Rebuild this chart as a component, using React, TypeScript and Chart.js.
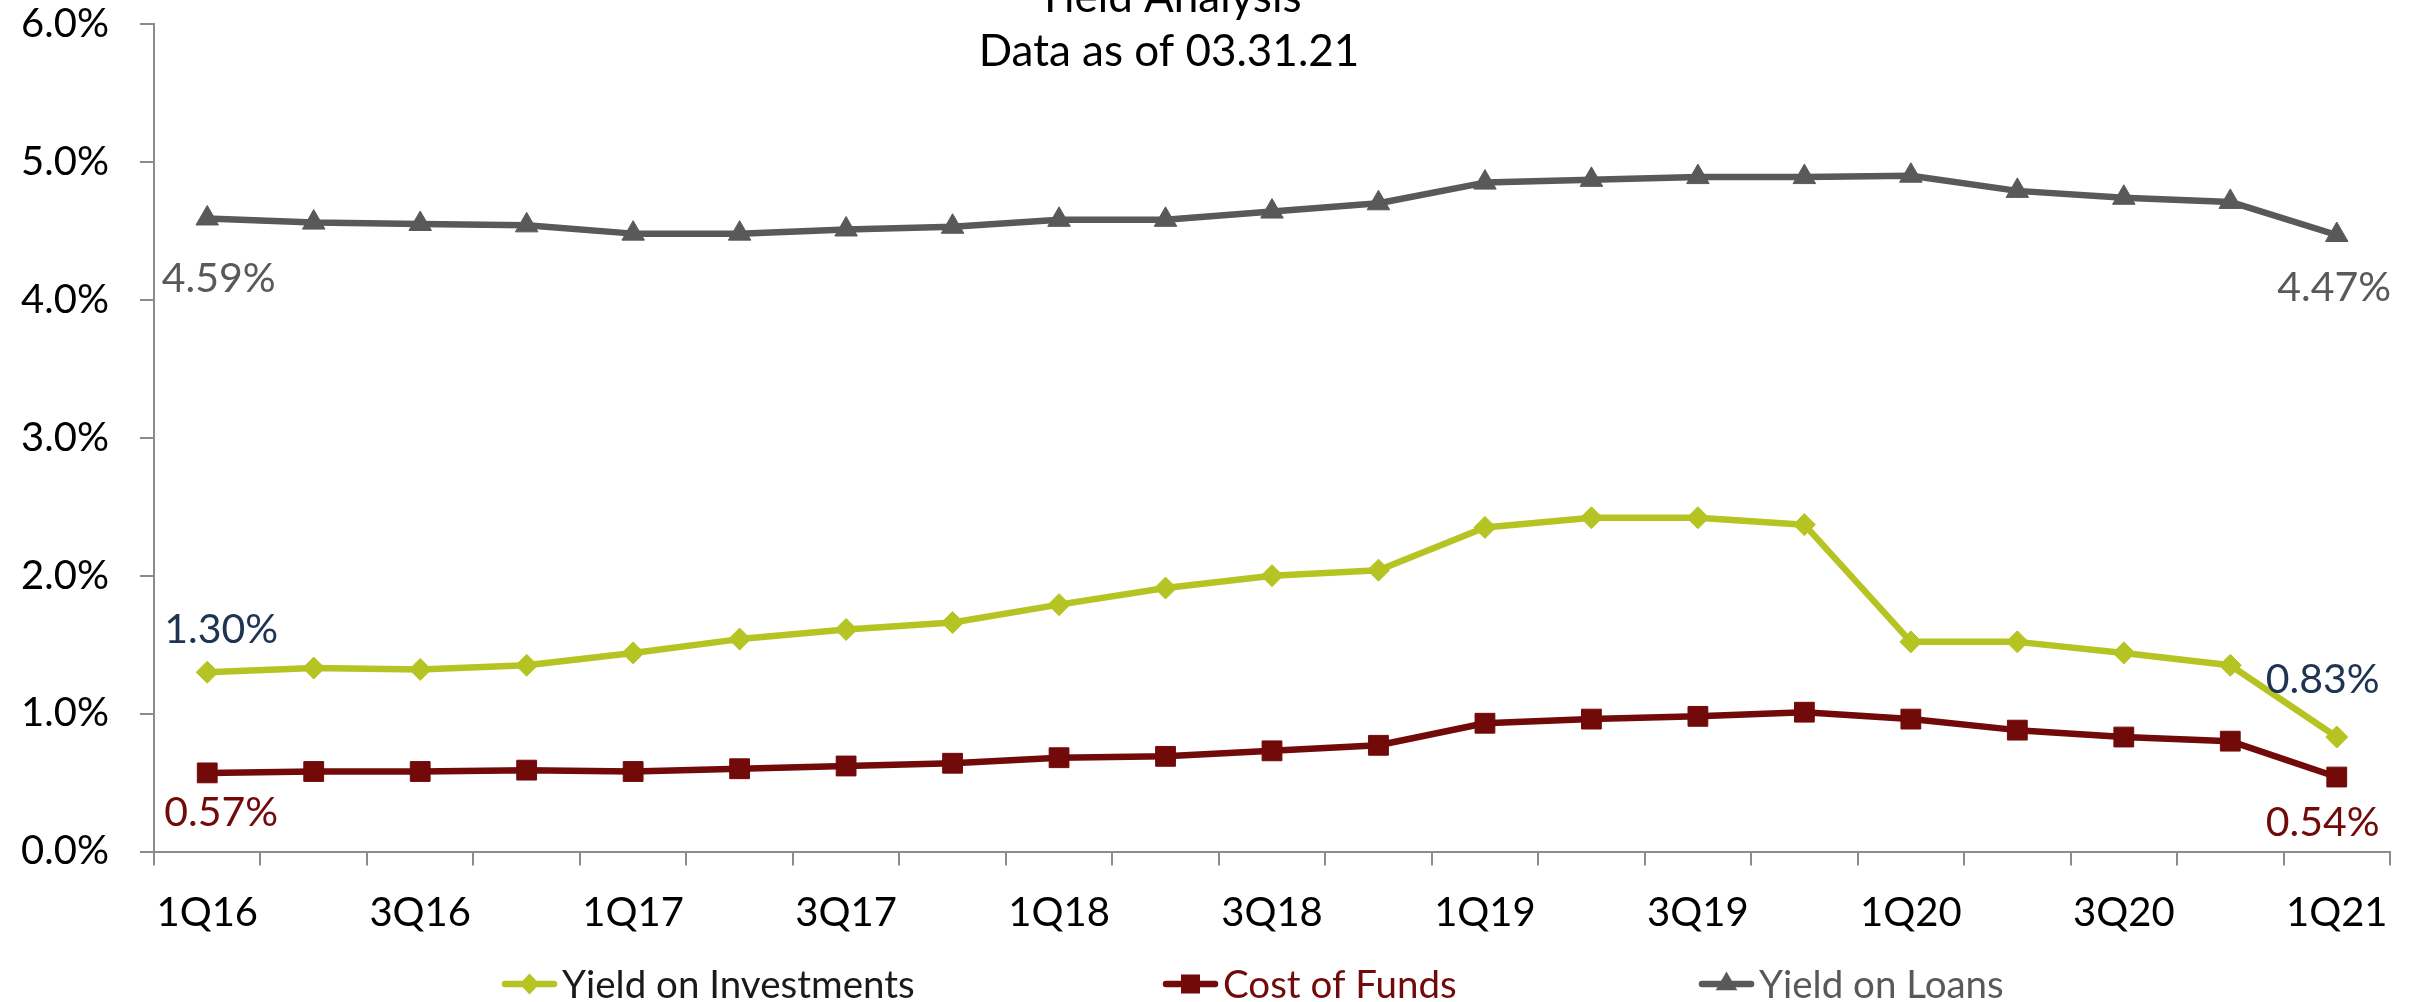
import React, { useEffect, useRef } from 'react';
import { Chart, registerables } from 'chart.js';

Chart.register(...registerables);

// ---------- data ----------
const quarters = ['1Q16', '2Q16', '3Q16', '4Q16', '1Q17', '2Q17', '3Q17', '4Q17', '1Q18', '2Q18', '3Q18', '4Q18', '1Q19', '2Q19', '3Q19', '4Q19', '1Q20', '2Q20', '3Q20', '4Q20', '1Q21'];
const yieldOnInvestments = [1.30, 1.33, 1.32, 1.35, 1.44, 1.54, 1.61, 1.66, 1.79, 1.91, 2.00, 2.04, 2.35, 2.42, 2.42, 2.37, 1.52, 1.52, 1.44, 1.35, 0.83];
const costOfFunds = [0.57, 0.58, 0.58, 0.59, 0.58, 0.60, 0.62, 0.64, 0.68, 0.69, 0.73, 0.77, 0.93, 0.96, 0.98, 1.01, 0.96, 0.88, 0.83, 0.80, 0.54];
const yieldOnLoans = [4.59, 4.56, 4.55, 4.54, 4.48, 4.48, 4.51, 4.53, 4.58, 4.58, 4.64, 4.70, 4.85, 4.87, 4.89, 4.89, 4.90, 4.79, 4.74, 4.71, 4.47];
const yTicks = [0, 1, 2, 3, 4, 5, 6];
const titleLines = ['Yield Analysis', 'Data as of 03.31.21'];
const seriesNames = ['Yield on Investments', 'Cost of Funds', 'Yield on Loans'];

// ---------- styles ----------
const FONT = 'Lato, "Open Sans", sans-serif';
const CAP = 0.7165;
const C_INV = '#B5C422';
const C_COF = '#720A0A';
const C_LOAN = '#595959';
const C_AXIS = '#8C8C8C';
const legendTextColors = ['#1A1A1A', C_COF, C_LOAN];
const legendStarts = [502, 1163, 1699];
const pointStyles = ['diamond', 'square', 'triangle'];

// data-label placement (offsets relative to the point, cap-centre)
const labelPlacement = [
  { ds: 2, i: 0, dx: 11.5, dy: 59, color: C_LOAN },
  { ds: 2, i: 20, dx: -2.5, dy: 51.5, color: C_LOAN },
  { ds: 0, i: 0, dx: 14, dy: -44, color: '#1F3352' },
  { ds: 0, i: 20, dx: -14, dy: -59, color: '#1F3352' },
  { ds: 1, i: 0, dx: 14, dy: 38, color: C_COF },
  { ds: 1, i: 20, dx: -14, dy: 44, color: C_COF },
];

function drawMarker(ctx: CanvasRenderingContext2D, kind: string, x: number, y: number, color: string) {
  ctx.save();
  ctx.fillStyle = color;
  ctx.beginPath();
  if (kind === 'diamond') {
    ctx.moveTo(x - 10, y);
    ctx.lineTo(x, y - 10.5);
    ctx.lineTo(x + 10, y);
    ctx.lineTo(x, y + 10.5);
  } else if (kind === 'square') {
    ctx.rect(x - 9.5, y - 9.5, 19, 19);
  } else {
    const r = 12.5;
    ctx.moveTo(x, y - r);
    ctx.lineTo(x + r * Math.sin((2 * Math.PI) / 3), y + r * 0.5);
    ctx.lineTo(x - r * Math.sin((2 * Math.PI) / 3), y + r * 0.5);
  }
  ctx.closePath();
  ctx.fill();
  ctx.restore();
}

const overlayPlugin = {
  id: 'overlay',
  afterDraw(chart: any) {
    const ctx: CanvasRenderingContext2D = chart.ctx;
    ctx.save();
    // title
    ctx.font = `400 44px ${FONT}`;
    ctx.fillStyle = '#000';
    ctx.textAlign = 'center';
    ctx.textBaseline = 'alphabetic';
    ctx.fillText(titleLines[0], 1169, 12);
    ctx.fillText(titleLines[1], 1169, 66);

    // data labels
    const lsize = 41;
    ctx.font = `400 ${lsize}px ${FONT}`;
    labelPlacement.forEach((lp) => {
      const meta = chart.getDatasetMeta(lp.ds);
      const pt = meta.data[lp.i];
      const v = chart.data.datasets[lp.ds].data[lp.i] as number;
      ctx.fillStyle = lp.color;
      ctx.fillText(v.toFixed(2) + '%', pt.x + lp.dx, pt.y + lp.dy + (CAP * lsize) / 2);
    });

    // legend
    const fsize = 38.5;
    ctx.font = `400 ${fsize}px ${FONT}`;
    const lineW = 55;
    const textGap = 5;
    const y = 984;
    chart.data.datasets.forEach((d: any, i: number) => {
      const x = legendStarts[i];
      ctx.strokeStyle = d.borderColor;
      ctx.lineWidth = 6.5;
      ctx.lineCap = 'round';
      ctx.beginPath();
      ctx.moveTo(x + 3, y);
      ctx.lineTo(x + lineW - 3, y);
      ctx.stroke();
      drawMarker(ctx, pointStyles[i], x + lineW / 2, y, d.borderColor);
      ctx.fillStyle = legendTextColors[i];
      ctx.textAlign = 'left';
      ctx.fillText(d.label, x + lineW + textGap, y + (CAP * fsize) / 2);
    });
    ctx.restore();
  },
};

export default function App() {
  const ref = useRef<HTMLCanvasElement>(null);

  useEffect(() => {
    const canvas = ref.current;
    if (!canvas) return;
    const chart = new Chart(canvas, {
      type: 'line',
      data: {
        labels: quarters,
        datasets: [
          {
            label: seriesNames[0],
            data: yieldOnInvestments,
            borderColor: C_INV,
            backgroundColor: C_INV,
            borderWidth: 6.5,
            pointStyle: 'rectRot',
            pointRadius: 11,
            pointHoverRadius: 11,
            pointBackgroundColor: C_INV,
            pointBorderColor: C_INV,
            pointBorderWidth: 1,
            borderJoinStyle: 'round',
            tension: 0,
          },
          {
            label: seriesNames[1],
            data: costOfFunds,
            borderColor: C_COF,
            backgroundColor: C_COF,
            borderWidth: 6.5,
            pointStyle: 'rect',
            pointRadius: 14,
            pointHoverRadius: 14,
            pointBackgroundColor: C_COF,
            pointBorderColor: C_COF,
            pointBorderWidth: 1,
            borderJoinStyle: 'round',
            tension: 0,
          },
          {
            label: seriesNames[2],
            data: yieldOnLoans,
            borderColor: C_LOAN,
            backgroundColor: C_LOAN,
            borderWidth: 6.5,
            pointStyle: 'triangle',
            pointRadius: 13,
            pointHoverRadius: 13,
            pointBackgroundColor: C_LOAN,
            pointBorderColor: C_LOAN,
            pointBorderWidth: 1,
            borderJoinStyle: 'round',
            tension: 0,
          },
        ],
      },
      options: {
        animation: false,
        responsive: true,
        maintainAspectRatio: false,
        layout: { padding: { top: 24, right: 22, bottom: 0, left: 0 } },
        plugins: {
          legend: { display: false },
          title: { display: false },
          tooltip: { enabled: false },
        },
        scales: {
          x: {
            type: 'category',
            offset: true,
            afterFit: (s: any) => {
              s.height = 150.5;
              s.paddingLeft = 0;
              s.paddingRight = 0;
            },
            grid: {
              display: true,
              drawOnChartArea: false,
              drawTicks: true,
              tickLength: 14,
              offset: true,
              color: C_AXIS,
              lineWidth: 2,
            },
            border: { display: true, color: C_AXIS, width: 2 },
            ticks: {
              autoSkip: false,
              maxRotation: 0,
              minRotation: 0,
              padding: 24,
              color: '#000',
              font: { family: FONT, size: 40, weight: '400' },
              callback: (_v: any, idx: number) => (idx % 2 === 0 ? quarters[idx] : ''),
            },
          },
          y: {
            min: 0,
            max: 6,
            afterFit: (s: any) => {
              s.width = 154;
              s.paddingTop = 0;
              s.paddingBottom = 0;
            },
            afterBuildTicks: (s: any) => {
              s.ticks = yTicks.map((v) => ({ value: v }));
            },
            grid: {
              display: true,
              drawOnChartArea: false,
              drawTicks: true,
              tickLength: 14,
              color: C_AXIS,
              lineWidth: 2,
            },
            border: { display: true, color: C_AXIS, width: 2 },
            ticks: {
              padding: 31,
              color: '#000',
              font: { family: FONT, size: 40, weight: '400' },
              callback: (v: any) => Number(v).toFixed(1) + '%',
            },
          },
        },
      },
      plugins: [overlayPlugin],
    });
    return () => chart.destroy();
  }, []);

  return (
    <div style={{ position: 'absolute', left: 0, top: 0, width: 2412, height: 1002 }}>
      <canvas ref={ref} style={{ display: 'block' }} />
    </div>
  );
}
